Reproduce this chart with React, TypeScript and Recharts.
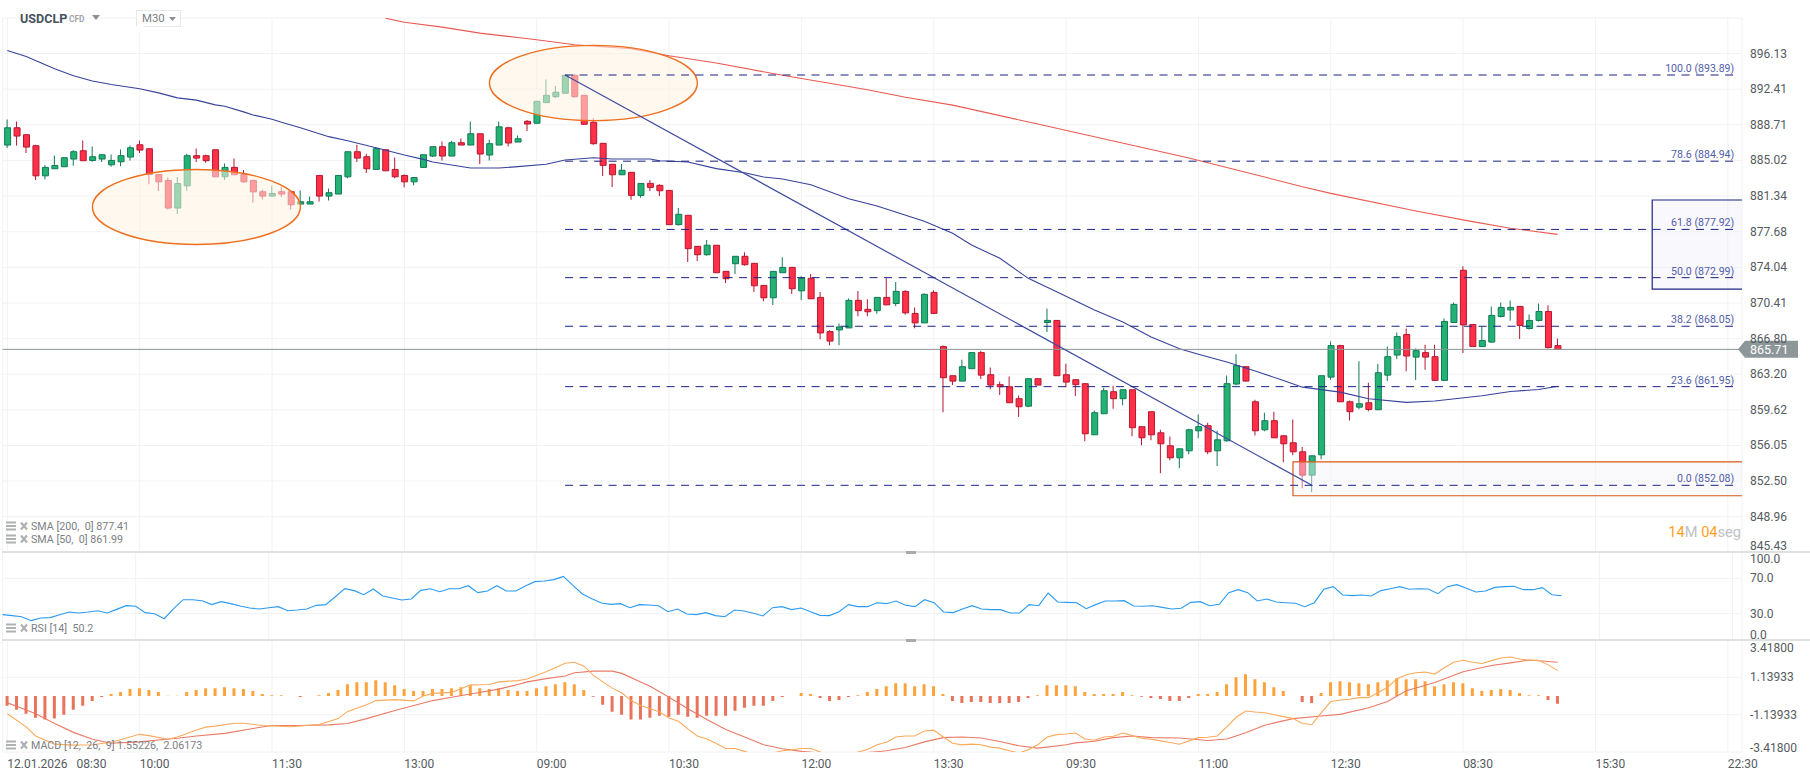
import { Bar, CartesianGrid, Cell, ComposedChart, Line, ReferenceArea, ReferenceLine, XAxis, YAxis } from "recharts";

const opens = [
  886.61, 888.4, 887.68, 886.54, 883.43, 884.16, 884.37, 885.16, 886.02, 885.02, 885.16, 884.57, 884.88, 885.37, 886.64,
  886.23, 883.57, 882.95, 880.11, 882.4, 885.51, 885.51, 886.12, 883.33, 884.3, 883.57, 882.95, 881.79, 881.34, 881.79,
  881.79, 880.52, 880.52, 883.47, 881.34, 881.55, 883.33, 885.92, 885.4, 884.09, 886.12, 884.09, 883.47, 882.81, 884.3,
  885.47, 886.44, 885.47, 886.85, 886.61, 887.78, 885.58, 886.61, 888.4, 886.92, 889.07, 888.87, 891.01, 891.63, 891.99,
  893.86, 891.77, 888.97, 886.79, 884.62, 883.54, 883.79, 881.41, 882.65, 882.45, 881.93, 878.41, 879.37, 876.19, 875.33,
  876.3, 873.63, 874.41, 875.17, 874.45, 872.2, 870.94, 873.49, 874.04, 871.65, 872.92, 870.98, 867.51, 867.68, 867.88,
  870.68, 869.77, 869.63, 870.98, 870.36, 871.59, 869.35, 868.39, 871.49, 865.99, 863.05, 862.51, 863.76, 865.38, 863.15,
  862.15, 861.94, 860.74, 859.99, 862.75, 868.43, 868.64, 863.15, 862.65, 862.25, 857.12, 859.23, 861.44, 860.74, 861.64,
  857.93, 859.43, 857.32, 856.02, 854.82, 855.52, 857.52, 858.03, 855.52, 856.52, 862.21, 863.96, 860.43, 857.62, 858.53,
  857.02, 856.32, 855.42, 853.09, 855.12, 862.91, 866.09, 860.43, 859.89, 860.33, 859.63, 863.11, 865.14, 867.21, 864.93,
  865.38, 864.97, 862.58, 868.43, 873.74, 868.23, 865.99, 866.45, 869.04, 869.71, 870.06, 867.82, 868.64, 869.55, 866.09,
];
const closes = [
  888.4, 887.54, 886.4, 883.43, 884.3, 884.5, 885.3, 885.92, 884.99, 885.4, 885.61, 885.02, 885.51, 886.33, 886.09,
  883.57, 882.81, 880.11, 882.64, 885.51, 885.26, 884.99, 883.33, 884.3, 883.54, 882.81, 881.78, 881.34, 881.61, 881.55,
  880.45, 880.76, 880.76, 881.34, 881.69, 883.47, 885.92, 885.26, 884.16, 886.23, 883.95, 883.33, 882.81, 883.26, 885.61,
  886.44, 885.47, 886.85, 886.61, 887.78, 885.68, 886.75, 888.5, 886.82, 887.26, 888.79, 891.15, 891.77, 892.09, 893.86,
  891.63, 888.76, 886.75, 884.51, 883.54, 884.0, 881.41, 882.65, 882.24, 881.89, 878.41, 879.47, 875.95, 875.33, 876.3,
  873.49, 872.88, 875.17, 874.31, 872.16, 870.94, 873.63, 874.04, 871.86, 872.92, 870.84, 867.37, 866.55, 867.98, 870.68,
  869.63, 869.52, 870.98, 870.22, 871.59, 869.41, 868.39, 871.29, 869.35, 862.85, 862.51, 863.96, 865.38, 863.11, 862.11,
  861.94, 860.33, 859.93, 862.75, 862.11, 868.64, 863.05, 862.41, 862.15, 857.22, 859.33, 861.54, 860.74, 861.64, 857.83,
  856.82, 857.12, 856.22, 854.82, 855.72, 857.62, 857.93, 855.42, 856.62, 862.25, 864.06, 862.51, 857.52, 858.53, 856.82,
  856.22, 855.42, 853.09, 855.02, 863.05, 866.09, 860.43, 859.43, 860.23, 859.66, 863.35, 864.97, 867.0, 865.04, 865.58,
  864.93, 862.58, 868.53, 870.27, 868.19, 865.99, 866.6, 869.15, 869.96, 869.96, 868.13, 868.64, 869.55, 865.89, 865.71,
];
const highs = [
  889.26, 889.05, 887.68, 886.64, 884.54, 885.54, 885.3, 886.06, 887.09, 886.47, 885.64, 885.64, 886.16, 886.57, 887.09,
  886.23, 883.57, 883.26, 883.3, 885.71, 886.26, 885.61, 886.12, 884.71, 885.23, 884.02, 883.05, 882.0, 882.43, 882.26,
  881.83, 881.93, 881.31, 883.47, 882.13, 883.47, 885.92, 886.64, 885.71, 886.4, 886.12, 885.33, 883.57, 883.26, 885.61,
  886.44, 886.99, 887.06, 887.3, 889.05, 887.78, 887.16, 889.05, 888.5, 887.61, 889.21, 891.15, 893.41, 892.74, 893.86,
  893.99, 891.77, 889.39, 886.79, 884.62, 884.65, 883.79, 882.65, 883.0, 882.55, 881.93, 880.12, 879.37, 876.19, 876.84,
  876.3, 873.63, 875.17, 875.58, 874.45, 872.2, 873.63, 875.07, 874.04, 873.12, 873.36, 871.52, 867.65, 868.33, 870.88,
  871.62, 870.78, 870.98, 872.92, 872.54, 871.7, 869.96, 871.39, 871.7, 866.09, 863.05, 864.67, 865.38, 865.58, 863.89,
  862.48, 862.98, 861.07, 862.75, 862.75, 869.86, 868.64, 864.26, 862.68, 862.25, 859.56, 861.84, 862.04, 861.64, 861.64,
  857.93, 859.43, 857.62, 856.95, 855.72, 857.72, 859.16, 858.33, 857.52, 863.08, 865.21, 863.99, 860.64, 859.33, 859.43,
  857.05, 858.66, 855.92, 855.02, 863.08, 866.5, 866.19, 860.57, 864.5, 862.35, 864.26, 865.99, 867.41, 867.82, 865.8,
  866.19, 866.19, 868.84, 870.47, 874.14, 868.23, 868.02, 870.06, 870.47, 870.67, 870.06, 869.25, 870.37, 870.17, 866.8,
];
const lows = [
  886.3, 886.57, 885.78, 882.99, 883.09, 884.16, 884.37, 884.47, 884.99, 884.88, 884.85, 884.37, 884.43, 885.02, 885.78,
  882.55, 881.86, 879.97, 879.49, 881.93, 884.85, 884.78, 883.33, 882.99, 883.54, 882.71, 880.69, 881.0, 881.34, 881.24,
  879.97, 880.52, 880.52, 880.79, 880.9, 881.55, 883.19, 884.85, 883.71, 884.09, 883.95, 883.19, 882.26, 882.47, 884.3,
  885.37, 885.02, 885.47, 886.61, 886.61, 884.64, 885.02, 886.61, 886.47, 886.92, 888.07, 888.82, 891.01, 891.5, 891.99,
  891.53, 888.76, 886.65, 883.41, 882.27, 883.54, 880.97, 881.17, 881.86, 881.34, 878.41, 878.31, 874.58, 874.69, 875.23,
  873.49, 872.44, 873.36, 874.2, 871.52, 870.6, 870.2, 873.49, 871.32, 870.71, 870.84, 866.73, 866.12, 866.12, 867.88,
  869.07, 869.07, 869.31, 870.22, 870.09, 869.21, 867.85, 868.39, 869.35, 859.39, 862.11, 862.51, 863.76, 862.71, 861.7,
  861.1, 860.33, 858.89, 859.89, 862.11, 867.47, 863.05, 861.9, 861.0, 856.48, 857.12, 859.23, 859.73, 860.09, 856.98,
  856.08, 856.58, 853.29, 854.58, 853.79, 855.18, 856.78, 855.18, 853.99, 856.45, 862.08, 862.48, 857.05, 857.48, 856.82,
  854.38, 855.08, 851.79, 851.4, 854.68, 862.65, 860.43, 858.56, 859.69, 859.49, 859.63, 862.51, 864.73, 863.51, 862.61,
  863.66, 862.51, 862.51, 868.43, 865.34, 865.99, 865.99, 866.39, 868.94, 868.6, 866.76, 867.72, 868.53, 865.79, 865.71,
];

// moving averages, read at the candles where the curve bends
const sma50Idx = [0, 2, 5, 7, 9, 11, 14, 16, 18, 20, 22, 23, 25, 26, 28, 29, 31, 34, 36, 39, 42, 44, 45, 49, 52, 54, 57, 59, 62, 64, 68, 69, 72, 75, 78, 80, 82, 85, 89, 92, 97, 100, 102, 105, 108, 111, 115, 118, 121, 124, 126, 129, 132, 135, 137, 141, 144, 148, 151, 156, 159, 162, 164];
const sma50Vals = [896.45, 895.83, 894.54, 893.81, 893.26, 892.9, 892.45, 892.03, 891.51, 891.27, 890.78, 890.64, 890.05, 889.73, 889.28, 888.97, 888.41, 887.48, 887.06, 886.34, 885.58, 885.13, 884.86, 884.24, 884.24, 884.38, 884.62, 885.06, 885.3, 885.17, 885.17, 884.99, 884.86, 884.17, 883.75, 883.31, 883.1, 882.51, 881.07, 880.32, 878.75, 877.52, 876.33, 874.96, 872.92, 871.55, 869.69, 868.49, 866.96, 865.78, 865.21, 864.43, 863.53, 862.57, 861.9, 861.4, 860.74, 860.37, 860.5, 861.04, 861.47, 861.67, 861.99];
const sma200Idx = [40, 42, 46, 50, 54, 56, 60, 66, 70, 75, 82, 91, 95, 100, 109, 117, 125, 133, 137, 140, 149, 155, 159, 164];
const sma200Vals = [899.84, 899.42, 898.9, 898.27, 897.81, 897.57, 897.05, 896.63, 895.9, 895.14, 893.86, 892.35, 891.58, 890.75, 888.79, 887.03, 885.27, 883.3, 882.3, 881.62, 879.81, 878.72, 878.04, 877.41];

const rsiVals = [
  28.8, 27.7, 26.5, 22.0, 25.0, 25.4, 28.8, 31.8, 30.7, 31.8, 33.3, 30.7, 34.8, 39.0, 38.3, 31.1, 29.9, 24.2, 35.6, 45.8,
  45.8, 44.7, 40.2, 43.6, 41.3, 38.6, 36.4, 35.2, 36.7, 37.9, 33.3, 34.1, 35.2, 39.4, 40.2, 49.2, 58.3, 56.1, 51.5, 58.0,
  50.0, 47.7, 45.5, 46.6, 56.4, 58.3, 54.9, 58.3, 58.3, 61.7, 53.8, 55.7, 61.7, 55.7, 55.7, 61.4, 66.3, 67.0, 68.6, 72.3,
  62.1, 52.3, 47.0, 42.0, 40.5, 41.3, 36.7, 40.2, 39.8, 39.0, 32.2, 35.2, 29.5, 28.8, 31.1, 27.7, 26.5, 34.1, 33.0, 30.3,
  27.3, 36.7, 37.9, 34.5, 36.4, 32.2, 28.0, 27.7, 32.2, 40.2, 37.9, 37.9, 42.4, 41.3, 44.3, 39.4, 37.9, 45.8, 42.4, 31.8,
  31.1, 35.2, 39.0, 35.2, 34.5, 34.5, 30.7, 30.7, 40.2, 39.0, 53.4, 43.2, 42.8, 42.4, 35.6, 40.2, 44.3, 44.3, 44.7, 38.6,
  38.3, 39.0, 37.1, 35.2, 36.0, 42.8, 43.6, 39.0, 40.5, 53.8, 57.2, 53.8, 44.3, 46.6, 43.2, 42.4, 41.7, 37.9, 42.4, 57.6,
  60.6, 51.1, 50.4, 51.1, 50.0, 56.1, 58.3, 60.6, 57.6, 58.3, 58.0, 52.7, 60.6, 62.9, 58.7, 54.5, 55.7, 59.8, 60.6, 61.0,
  57.2, 57.2, 59.5, 51.5, 50.2,
];

const histVals = [
  -0.6, -0.84, -1.08, -1.32, -1.44, -1.38, -1.14, -0.84, -0.6, -0.3, -0.06, 0.12, 0.24, 0.42, 0.48, 0.36, 0.24, 0.02, 0.02, 0.24,
  0.36, 0.48, 0.48, 0.54, 0.48, 0.42, 0.3, 0.12, 0.04, 0.04, 0, -0.06, 0, 0.04, 0.18, 0.36, 0.72, 0.84, 0.84, 0.96,
  0.84, 0.66, 0.42, 0.3, 0.3, 0.42, 0.42, 0.48, 0.54, 0.66, 0.48, 0.42, 0.48, 0.36, 0.3, 0.3, 0.48, 0.6, 0.72, 0.84,
  0.72, 0.36, -0.04, -0.54, -0.96, -1.14, -1.44, -1.44, -1.32, -1.2, -1.26, -1.14, -1.26, -1.32, -1.2, -1.2, -1.2, -0.9, -0.72, -0.6,
  -0.6, -0.3, -0.06, 0, 0.18, 0.12, -0.12, -0.3, -0.24, -0.06, 0.04, 0.24, 0.42, 0.6, 0.78, 0.78, 0.6, 0.72, 0.6, 0.12,
  -0.3, -0.42, -0.36, -0.36, -0.42, -0.42, -0.42, -0.36, -0.12, 0.04, 0.66, 0.66, 0.66, 0.6, 0.24, 0.12, 0.12, 0.12, 0.24, 0.04,
  -0.04, -0.12, -0.18, -0.3, -0.3, -0.12, 0.12, 0.12, 0.24, 0.72, 1.14, 1.32, 1.02, 0.84, 0.54, 0.3, 0, -0.36, -0.42, 0.18,
  0.84, 0.9, 0.84, 0.78, 0.72, 0.84, 0.96, 1.08, 1.02, 1.02, 0.9, 0.6, 0.72, 0.84, 0.78, 0.48, 0.3, 0.36, 0.42, 0.36,
  0.18, 0.04, 0.04, -0.24, -0.48,
];
const macdIdx = [0, 2, 3, 5, 7, 9, 11, 14, 15, 17, 18, 20, 21, 22, 24, 25, 27, 30, 33, 35, 36, 38, 39, 41, 43, 44, 45, 47, 49, 51, 52, 54, 55, 56, 57, 58, 59, 60, 61, 62, 63, 64, 65, 66, 67, 68, 69, 70, 71, 72, 73, 74, 75, 76, 77, 78, 79, 80, 81, 82, 83, 84, 85, 86, 87, 88, 89, 90, 91, 92, 93, 94, 95, 96, 97, 98, 99, 100, 101, 102, 103, 104, 105, 106, 107, 108, 109, 110, 111, 112, 113, 114, 115, 116, 117, 118, 119, 120, 121, 122, 123, 124, 125, 126, 127, 128, 129, 130, 131, 132, 133, 134, 135, 136, 137, 138, 139, 140, 141, 142, 143, 144, 145, 146, 147, 148, 149, 150, 151, 152, 153, 154, 155, 156, 157, 158, 159, 160, 161, 162, 163, 164];
const macdVals = [-1.08, -1.88, -2.44, -2.94, -3.0, -2.98, -2.82, -2.34, -2.42, -2.64, -2.5, -2.08, -1.9, -1.84, -1.66, -1.66, -1.8, -1.88, -1.74, -1.38, -0.94, -0.54, -0.28, -0.22, -0.3, 0, 0.16, 0.22, 0.68, 0.7, 0.86, 0.94, 1.04, 1.26, 1.48, 1.74, 2.0, 2.06, 1.82, 1.26, 0.86, 0.48, 0.18, -0.28, -0.58, -0.78, -0.98, -1.34, -1.54, -2.02, -2.44, -2.62, -2.9, -3.2, -3.2, -3.38, -3.58, -3.62, -3.48, -3.34, -3.28, -3.2, -3.2, -3.42, -3.68, -3.68, -3.58, -3.42, -3.26, -2.98, -2.82, -2.5, -2.44, -2.44, -2.14, -2.08, -2.5, -2.88, -2.98, -2.94, -2.98, -3.12, -3.18, -3.34, -3.48, -3.28, -2.98, -2.5, -2.36, -2.32, -2.26, -2.62, -2.7, -2.5, -2.46, -2.26, -2.42, -2.58, -2.64, -2.74, -2.84, -2.94, -2.74, -2.54, -2.52, -2.44, -1.88, -1.3, -0.92, -0.98, -1.02, -1.14, -1.26, -1.38, -1.68, -1.74, -1.02, -0.34, -0.24, -0.2, -0.1, -0.1, 0.22, 0.52, 1.06, 1.3, 1.42, 1.46, 1.34, 1.72, 2.06, 2.18, 2.06, 1.98, 2.16, 2.32, 2.38, 2.26, 2.18, 2.18, 1.9, 1.55];
const signalIdx = [0, 1, 3, 5, 7, 9, 11, 14, 17, 18, 20, 23, 26, 28, 31, 34, 36, 38, 41, 43, 45, 47, 49, 52, 54, 55, 57, 59, 60, 62, 64, 65, 67, 68, 70, 72, 74, 76, 78, 80, 82, 84, 86, 88, 90, 92, 93, 95, 97, 99, 101, 103, 105, 107, 109, 110, 112, 113, 115, 117, 119, 121, 124, 127, 129, 131, 133, 136, 139, 141, 144, 146, 148, 151, 154, 157, 159, 161, 164];
const signalVals = [-0.42, -0.62, -1.08, -1.68, -2.22, -2.64, -2.88, -2.8, -2.62, -2.58, -2.44, -2.28, -1.98, -1.8, -1.8, -1.76, -1.68, -1.38, -0.88, -0.58, -0.28, -0.08, 0.12, 0.42, 0.7, 0.86, 1.06, 1.22, 1.42, 1.52, 1.52, 1.38, 0.86, 0.6, -0.08, -0.78, -1.44, -2.04, -2.5, -2.98, -3.22, -3.38, -3.48, -3.54, -3.5, -3.4, -3.34, -3.14, -2.8, -2.54, -2.5, -2.56, -2.78, -3.04, -3.18, -3.12, -2.98, -2.86, -2.76, -2.54, -2.44, -2.54, -2.56, -2.72, -2.62, -2.24, -1.78, -1.38, -1.22, -1.12, -0.72, -0.34, 0.32, 0.82, 1.48, 1.86, 2.02, 2.2, 2.06];

const priceTicks = [845.43, 848.96, 852.5, 856.05, 859.62, 863.2, 866.8, 870.41, 874.04, 877.68, 881.34, 885.02, 888.71, 892.41, 896.13];
const rsiTicks = [0, 30, 70, 100];
const macdTicks = [-3.418, -1.13933, 1.13933, 3.418];
const timeLabels = ["12.01.2026\u00a0\u00a0\u00a008:30", "10:00", "11:30", "13:00", "09:00", "10:30", "12:00", "13:30", "09:30", "11:00", "12:30", "08:30", "15:30", "22:30"];
const fibLevels = [
  { label: "100.0 (893.89)", price: 893.89 },
  { label: "78.6 (884.94)", price: 884.94 },
  { label: "61.8 (877.92)", price: 877.92 },
  { label: "50.0 (872.99)", price: 872.99 },
  { label: "38.2 (868.05)", price: 868.05 },
  { label: "23.6 (861.95)", price: 861.95 },
  { label: "0.0 (852.08)", price: 852.08 },
];

const SLOT_COUNT = 184;
const LAST_PRICE = 865.71;
const UP_FILL = "#23b274";
const UP_EDGE = "#107a55";
const DOWN_FILL = "#ff3047";
const DOWN_EDGE = "#b5172f";
const GRID = "#f1f2f4";
const NAVY = "#1b2384";
const FONT = "Roboto, sans-serif";
const MARGIN_LEFT = 2.6;
const AXIS_WIDTH = 68;
const HALF_SLOT = 4.73;

const slots = Array.from({ length: SLOT_COUNT }, (_, i) => i);
const gridTicks = timeLabels.map((_, i) => i * 14);

const pick = (idx: number[], vals: number[], i: number) => {
  const at = idx.indexOf(i);
  return at < 0 ? null : vals[at];
};

const mainRows = slots.map((i) => ({
  i,
  body: i < opens.length ? [Math.min(opens[i], closes[i]), Math.max(opens[i], closes[i])] : null,
  wick: i < opens.length ? [lows[i], highs[i]] : null,
  sma50: pick(sma50Idx, sma50Vals, i),
  sma200: pick(sma200Idx, sma200Vals, i),
}));
const rsiRows = slots.map((i) => ({ i, rsi: i < rsiVals.length ? rsiVals[i] : null }));
const macdRows = slots.map((i) => ({
  i,
  hist: i < histVals.length ? histVals[i] : null,
  macd: pick(macdIdx, macdVals, i),
  signal: pick(signalIdx, signalVals, i),
}));

// the first and last labels of a pane are pushed inside it
function ValueTick({ x, y, payload, digits, shifts }: any) {
  const shift = shifts[payload.value] ?? 0;
  return (
    <text x={x} y={y + shift} dy={4} textAnchor="start" fontFamily={FONT} fontSize={12} fill="#555b60">
      {payload.value.toFixed(digits)}
    </text>
  );
}

function TimeTick({ x, y, payload }: any) {
  return (
    <text x={x} y={y} dy={8} textAnchor="start" fontFamily={FONT} fontSize={12} fill="#555b60">
      {timeLabels[payload.value / 14]}
    </text>
  );
}

function EllipseShape({ x, y, width, height }: any) {
  return (
    <ellipse
      cx={x + width / 2}
      cy={y + height / 2}
      rx={width / 2 - HALF_SLOT}
      ry={height / 2}
      fill="#fff3e2"
      fillOpacity={0.56}
      stroke="#ee6f1e"
      strokeWidth={1.4}
    />
  );
}

function OpenBox({ x, y, width, height, line, tint }: any) {
  const left = x + HALF_SLOT;
  const right = x + width;
  return (
    <g>
      <rect x={left} y={y} width={right - left} height={height} fill={tint} fillOpacity={0.45} />
      <path d={`M${right},${y}H${left}V${y + height}H${right}`} fill="none" stroke={line} strokeWidth={1.2} />
    </g>
  );
}

function PriceTag({ viewBox }: any) {
  const right = viewBox.x + viewBox.width;
  const y = viewBox.y;
  return (
    <g>
      <path d={`M${right - 4},${y}L${right + 3},${y - 8.5}H${right + 56}V${y + 8.5}H${right + 3}Z`} fill="#8d9799" />
      <text x={right + 8} y={y} dy={4.5} fontFamily={FONT} fontSize={12.5} fill="#fff">
        {LAST_PRICE.toFixed(2)}
      </text>
    </g>
  );
}

function IndicatorLegend({ top, text }: { top: number; text: string }) {
  return (
    <div style={{ position: "absolute", left: 6, top, height: 10, display: "flex", alignItems: "center", whiteSpace: "pre", fontSize: 10.7, color: "#7c8084" }}>
      <svg width={23} height={10} style={{ marginRight: 2 }}>
        <path d="M0,1.5H10M0,5H10M0,8.5H10" stroke="#aeb0b2" strokeWidth={2} />
        <path d="M15,1.5L21,8.5M21,1.5L15,8.5" stroke="#aeb0b2" strokeWidth={2.2} />
      </svg>
      {text}
    </div>
  );
}

function PaneDivider({ top }: { top: number }) {
  return (
    <>
      <div style={{ position: "absolute", left: 2, right: 0, top: top - 1, height: 2, background: "#dfe0e1" }} />
      <div style={{ position: "absolute", left: 906, width: 10, top: top - 1, height: 3, background: "#a9aaab" }} />
    </>
  );
}

function Header() {
  return (
    <>
      <div style={{ position: "absolute", left: 20, top: 11, fontSize: 12.6, fontWeight: 700, color: "#47525b" }}>USDCLP</div>
      <div style={{ position: "absolute", left: 69, top: 14, fontSize: 8.4, fontWeight: 700, color: "#a3a7aa" }}>CFD</div>
      <svg width={10} height={7} style={{ position: "absolute", left: 91, top: 14 }}>
        <path d="M1,1H9L5,6Z" fill="#8c9093" />
      </svg>
      <div style={{ position: "absolute", left: 136, top: 10, width: 43, height: 15, border: "1px solid #e7e8e8", background: "#fff" }}>
        <span style={{ position: "absolute", left: 5, top: 0, fontSize: 11.4, color: "#7b7f83" }}>M30</span>
        <svg width={9} height={6} style={{ position: "absolute", left: 31, top: 5 }}>
          <path d="M1,1H8L4.5,5Z" fill="#8c9093" />
        </svg>
      </div>
      <div style={{ position: "absolute", left: 136, top: 26, width: 8, height: 6, background: "#fff" }} />
    </>
  );
}

function MainPane() {
  return (
    <ComposedChart width={1810} height={552} data={mainRows} margin={{ top: 18, right: 0, bottom: 0, left: MARGIN_LEFT }} style={{ position: "absolute", left: 0, top: 0 }}>
      <CartesianGrid stroke={GRID} />
      <XAxis dataKey="i" type="category" hide ticks={gridTicks} interval={0} />
      <XAxis dataKey="i" type="category" hide xAxisId="wick" />
      <YAxis
        orientation="right"
        width={AXIS_WIDTH}
        type="number"
        scale="log"
        domain={[845.47, 899.86]}
        allowDataOverflow
        ticks={priceTicks}
        interval={0}
        tickLine={false}
        axisLine={false}
        tickSize={0}
        tickMargin={8}
        tick={<ValueTick digits={2} shifts={{ 845.43: -6 }} />}
      />
      <Bar dataKey="wick" xAxisId="wick" barSize={1} isAnimationActive={false}>
        {slots.map((i) => (
          <Cell key={i} fill={closes[i] >= opens[i] ? UP_EDGE : DOWN_EDGE} />
        ))}
      </Bar>
      <Bar dataKey="body" barSize={6} isAnimationActive={false}>
        {slots.map((i) => (
          <Cell key={i} fill={closes[i] >= opens[i] ? UP_FILL : DOWN_FILL} stroke={closes[i] >= opens[i] ? UP_EDGE : DOWN_EDGE} strokeWidth={1} />
        ))}
      </Bar>
      <Line dataKey="sma200" stroke="#ea5a52" strokeWidth={1.1} dot={false} connectNulls isAnimationActive={false} zIndex={320} />
      <Line dataKey="sma50" stroke="#38429a" strokeWidth={1.1} dot={false} connectNulls isAnimationActive={false} zIndex={320} />
      <ReferenceArea x1={9} x2={31} y1={884.09} y2={876.38} shape={<EllipseShape />} zIndex={350} />
      <ReferenceArea x1={51} x2={73} y1={896.99} y2={889.14} shape={<EllipseShape />} zIndex={350} />
      <ReferenceArea x1={174} x2={183} y1={880.94} y2={871.83} shape={<OpenBox line={NAVY} tint="#f0f0fa" />} zIndex={350} />
      <ReferenceArea x1={136} x2={183} y1={854.42} y2={851.04} shape={<OpenBox line="#d9591d" tint="#f4f4fb" />} zIndex={350} />
      <ReferenceLine y={LAST_PRICE} stroke="#8b9698" strokeWidth={1} label={<PriceTag />} />
      <ReferenceLine
        segment={[
          { x: 59, y: 893.89 },
          { x: 138, y: 852.08 },
        ]}
        stroke="#414c9f"
        strokeWidth={1.2}
      />
      {fibLevels.map((f) => (
        <ReferenceLine
          key={f.label}
          segment={[
            { x: 59, y: f.price },
            { x: 183, y: f.price },
          ]}
          stroke={NAVY}
          strokeDasharray="8 6.5"
          label={{ value: f.label, position: "insideBottomRight", fill: "#525da8", fontSize: 10.6, fontFamily: FONT, offset: 3 }}
        />
      ))}
    </ComposedChart>
  );
}

function RsiPane() {
  return (
    <ComposedChart width={1810} height={88} data={rsiRows} margin={{ top: 0, right: 0, bottom: 0, left: MARGIN_LEFT }} style={{ position: "absolute", left: 0, top: 552 }}>
      <CartesianGrid stroke={GRID} />
      <XAxis dataKey="i" type="category" hide ticks={gridTicks} interval={0} />
      <YAxis
        orientation="right"
        width={AXIS_WIDTH}
        type="number"
        domain={[0, 100]}
        ticks={rsiTicks}
        interval={0}
        tickLine={false}
        axisLine={false}
        tickSize={0}
        tickMargin={8}
        tick={<ValueTick digits={1} shifts={{ 100: 7, 0: -5 }} />}
      />
      <Line dataKey="rsi" stroke="#2b9bf2" strokeWidth={1.1} dot={false} isAnimationActive={false} />
    </ComposedChart>
  );
}

function MacdPane() {
  return (
    <ComposedChart width={1810} height={139} data={macdRows} margin={{ top: 0, right: 0, bottom: 0, left: MARGIN_LEFT }} style={{ position: "absolute", left: 0, top: 640 }}>
      <CartesianGrid stroke={GRID} />
      <XAxis dataKey="i" type="category" height={27} ticks={gridTicks} interval={0} tickLine={false} axisLine={false} tick={<TimeTick />} />
      <YAxis
        orientation="right"
        width={AXIS_WIDTH}
        type="number"
        domain={[-3.418, 3.418]}
        allowDataOverflow
        ticks={macdTicks}
        interval={0}
        tickLine={false}
        axisLine={false}
        tickSize={0}
        tickMargin={8}
        tick={<ValueTick digits={5} shifts={{ 3.418: 8, "-3.418": -4 }} />}
      />
      <Bar dataKey="hist" barSize={3} isAnimationActive={false}>
        {slots.map((i) => (
          <Cell key={i} fill={(histVals[i] ?? 0) >= 0 ? "#fea23c" : "#e8735a"} />
        ))}
      </Bar>
      <Line dataKey="signal" stroke="#ec7a66" strokeWidth={1.1} dot={false} connectNulls isAnimationActive={false} />
      <Line dataKey="macd" stroke="#fbaa5c" strokeWidth={1.1} dot={false} connectNulls isAnimationActive={false} />
    </ComposedChart>
  );
}

export default function App() {
  return (
    <div style={{ position: "absolute", left: 0, top: 0, width: 1810, height: 779, overflow: "hidden", background: "#fff", fontFamily: FONT }}>
      <MainPane />
      <RsiPane />
      <MacdPane />
      <PaneDivider top={552} />
      <PaneDivider top={640} />
      <Header />
      <IndicatorLegend top={521} text="SMA [200,  0] 877.41" />
      <IndicatorLegend top={534} text="SMA [50,  0] 861.99" />
      <IndicatorLegend top={623} text="RSI [14]  50.2" />
      <IndicatorLegend top={740} text="MACD [12,  26,  9] 1.55226,  2.06173" />
      <div style={{ position: "absolute", right: 69, top: 523, fontSize: 14.6, whiteSpace: "pre", color: "#bcc2c6" }}>
        <span style={{ color: "#ff9e1b" }}>14</span>M <span style={{ color: "#ff9e1b" }}>04</span>seg
      </div>
    </div>
  );
}
